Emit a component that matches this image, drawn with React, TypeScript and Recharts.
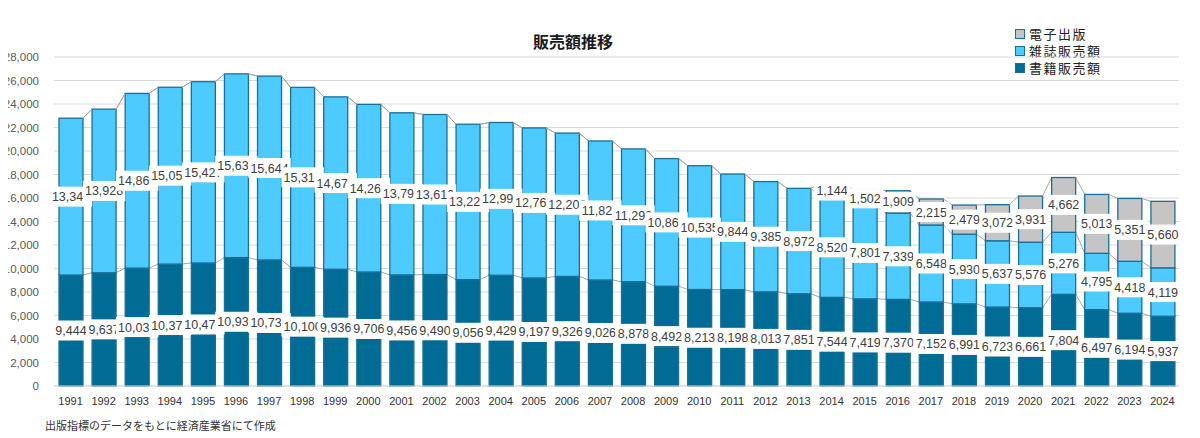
import { BarChart, Bar, XAxis, YAxis, CartesianGrid, LabelList } from "recharts";

// 販売額推移（億円）— 出版指標のデータより
const years = [
  "1991", "1992", "1993", "1994", "1995", "1996", "1997", "1998", "1999", "2000",
  "2001", "2002", "2003", "2004", "2005", "2006", "2007", "2008", "2009", "2010",
  "2011", "2012", "2013", "2014", "2015", "2016", "2017", "2018", "2019", "2020",
  "2021", "2022", "2023", "2024",
];

const books = [
  9444, 9637, 10034, 10375, 10470, 10931, 10730, 10100, 9936, 9706,
  9456, 9490, 9056, 9429, 9197, 9326, 9026, 8878, 8492, 8213,
  8198, 8013, 7851, 7544, 7419, 7370, 7152, 6991, 6723, 6661,
  7804, 6497, 6194, 5937,
];

const magazines = [
  13346, 13928, 14866, 15051, 15427, 15633, 15644, 15315, 14672, 14261,
  13794, 13616, 13222, 12998, 12767, 12200, 11827, 11299, 10864, 10535,
  9844, 9385, 8972, 8520, 7801, 7339, 6548, 5930, 5637, 5576,
  5276, 4795, 4418, 4119,
];

const digital: (number | null)[] = [
  null, null, null, null, null, null, null, null, null, null,
  null, null, null, null, null, null, null, null, null, null,
  null, null, null, 1144, 1502, 1909, 2215, 2479, 3072, 3931,
  4662, 5013, 5351, 5660,
];

const yTicks = [0, 2000, 4000, 6000, 8000, 10000, 12000, 14000, 16000, 18000, 20000, 22000, 24000, 26000, 28000];

const data = years.map((year, i) => ({
  year,
  books: books[i],
  magazines: magazines[i],
  digital: digital[i],
}));

const COLORS = {
  books: "#006c95",
  magazines: "#4dcbff",
  digital: "#c5c5c5",
  outline: "#1a6f97",
  seriesLine: "#a8a8a8",
};

// remembers the top-right corner of the previous bar of each series,
// so each bar can draw the excel-style series line to the one before it
const prevTop: Record<string, { index: number; x: number; y: number } | undefined> = {};

const makeShape = (key: string, fill: string) => (props: any) => {
  const { x, y, width, height, payload } = props;
  if (height == null || width == null) return null;
  const index = years.indexOf(payload?.year);
  const prev = prevTop[key];
  prevTop[key] = { index, x: x + width, y };
  return (
    <g>
      {prev && prev.index === index - 1 && (
        <line x1={prev.x} y1={prev.y} x2={x} y2={y} stroke={COLORS.seriesLine} strokeWidth={1} />
      )}
      <rect x={x} y={y} width={width} height={height} fill={fill} stroke={COLORS.outline} strokeWidth={1.3} />
    </g>
  );
};

const renderLabel = (props: any) => {
  const vb = props.viewBox || props;
  const { x, y, width, height } = vb;
  const value = props.value;
  if (value == null || value === 0) return null;
  const text = Number(value).toLocaleString("en-US");
  const w = text.length * 6.4 + 4;
  const cx = x + width / 2;
  const cy = y + height / 2;
  return (
    <g>
      <rect x={cx - w / 2} y={cy - 10} width={w} height={20} fill="#ffffff" />
      <text
        x={cx}
        y={cy}
        dy="0.36em"
        textAnchor="middle"
        fill="#404040"
        fontSize={12.5}
        fontFamily="'Liberation Sans', Arial, sans-serif"
      >
        {text}
      </text>
    </g>
  );
};

const legendItems = [
  { label: "電子出版", color: COLORS.digital },
  { label: "雑誌販売額", color: COLORS.magazines },
  { label: "書籍販売額", color: COLORS.books },
];

export default function App() {
  return (
    <div style={{ position: "relative", width: 1200, height: 438, margin: "-8px 0 0 -8px", background: "#fff" }}>
      <div
        style={{
          position: "absolute",
          left: 573,
          top: 29,
          width: 0,
          display: "flex",
          justifyContent: "center",
          whiteSpace: "nowrap",
          fontFamily: "'Noto Sans CJK JP', sans-serif",
          fontWeight: 700,
          fontSize: 16,
          color: "#1a1a1a",
        }}
      >
        販売額推移
      </div>

      <div
        style={{
          position: "absolute",
          left: 1015,
          top: 25,
          fontFamily: "'Noto Sans CJK JP', sans-serif",
          fontSize: 13,
          color: "#222",
          letterSpacing: 1.5,
          lineHeight: "17px",
        }}
      >
        {legendItems.map((item) => (
          <div key={item.label} style={{ display: "flex", alignItems: "center", gap: 4 }}>
            <span
              style={{
                display: "inline-block",
                width: 8,
                height: 8,
                background: item.color,
                border: `1.3px solid ${COLORS.outline}`,
              }}
            />
            <span>{item.label}</span>
          </div>
        ))}
      </div>

      <BarChart
        width={1200}
        height={438}
        data={data}
        margin={{ top: 57, right: 21, left: 0, bottom: 22 }}
      >
        <CartesianGrid vertical={false} stroke="#d9d9d9" strokeWidth={1} />
        <XAxis
          dataKey="year"
          axisLine={{ stroke: "#d9d9d9" }}
          tickLine={false}
          tickSize={0}
          tickMargin={11}
          interval={0}
          height={30}
          tick={{ fontSize: 11, fill: "#333333", fontFamily: "'Liberation Sans', Arial, sans-serif" }}
        />
        <YAxis
          domain={[0, 28000]}
          ticks={yTicks}
          interval={0}
          width={54}
          axisLine={false}
          tickLine={false}
          tickSize={0}
          tickMargin={15}
          tickFormatter={(v: number) => v.toLocaleString("en-US")}
          tick={{ fontSize: 11.5, fill: "#595959", fontFamily: "'Liberation Sans', Arial, sans-serif" }}
        />
        <Bar
          dataKey="books"
          stackId="a"
          barSize={24}
          fill={COLORS.books}
          shape={makeShape("books", COLORS.books)}
          isAnimationActive={false}
        >
          <LabelList dataKey="books" content={renderLabel} />
        </Bar>
        <Bar
          dataKey="magazines"
          stackId="a"
          barSize={24}
          fill={COLORS.magazines}
          shape={makeShape("magazines", COLORS.magazines)}
          isAnimationActive={false}
        >
          <LabelList dataKey="magazines" content={renderLabel} />
        </Bar>
        <Bar
          dataKey="digital"
          stackId="a"
          barSize={24}
          fill={COLORS.digital}
          shape={makeShape("digital", COLORS.digital)}
          isAnimationActive={false}
        >
          <LabelList dataKey="digital" content={renderLabel} />
        </Bar>
      </BarChart>

      <div
        style={{
          position: "absolute",
          left: 45,
          top: 417,
          fontFamily: "'Noto Sans CJK JP', sans-serif",
          fontSize: 11,
          color: "#333",
          whiteSpace: "nowrap",
        }}
      >
        出版指標のデータをもとに経済産業省にて作成
      </div>
    </div>
  );
}
